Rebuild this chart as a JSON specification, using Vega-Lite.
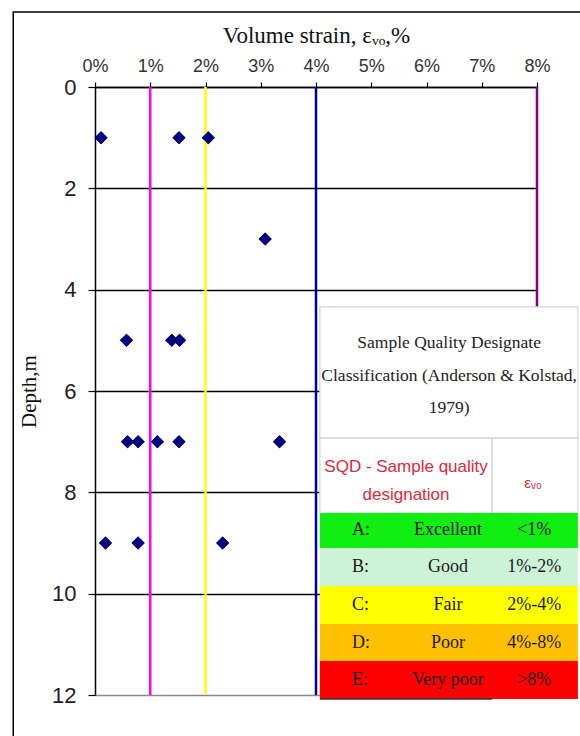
{
  "$schema": "https://vega.github.io/schema/vega-lite/v6.json",
  "width": 442,
  "height": 608,
  "autosize": "none",
  "padding": {"left": 95, "top": 87, "right": 43, "bottom": 41},
  "background": "white",
  "config": {"view": {"stroke": null}},
  "datasets": {
    "points": [
      {"depth": 1, "strain": 0.11}, {"depth": 1, "strain": 1.52}, {"depth": 1, "strain": 2.05},
      {"depth": 3, "strain": 3.08},
      {"depth": 5, "strain": 0.57}, {"depth": 5, "strain": 1.39}, {"depth": 5, "strain": 1.53},
      {"depth": 7, "strain": 0.59}, {"depth": 7, "strain": 0.78}, {"depth": 7, "strain": 1.13}, {"depth": 7, "strain": 1.52}, {"depth": 7, "strain": 3.34},
      {"depth": 9, "strain": 0.19}, {"depth": 9, "strain": 0.78}, {"depth": 9, "strain": 2.31}
    ],
    "limits": [
      {"limit": 1}, {"limit": 2}, {"limit": 4}, {"limit": 8}
    ],
    "whitecells": [
      {"cell": "title", "x0": 4.07, "x1": 8.74, "y0": 4.34, "y1": 6.93},
      {"cell": "sqd", "x0": 4.07, "x1": 7.19, "y0": 6.93, "y1": 8.41},
      {"cell": "eps", "x0": 7.19, "x1": 8.74, "y0": 6.93, "y1": 8.41}
    ],
    "grades": [
      {"grade": "A:", "quality": "Excellent", "range": "<1%", "y0": 8.41, "y1": 9.10, "ym": 8.75},
      {"grade": "B:", "quality": "Good", "range": "1%-2%", "y0": 9.10, "y1": 9.85, "ym": 9.48},
      {"grade": "C:", "quality": "Fair", "range": "2%-4%", "y0": 9.85, "y1": 10.60, "ym": 10.23},
      {"grade": "D:", "quality": "Poor", "range": "4%-8%", "y0": 10.60, "y1": 11.33, "ym": 10.97},
      {"grade": "E:", "quality": "Very poor", "range": ">8%", "y0": 11.33, "y1": 12.08, "ym": 11.71}
    ],
    "titlelines": [
      {"line": "Sample Quality Designate", "x": 6.41, "y": 5.05},
      {"line": "Classification (Anderson & Kolstad,", "x": 6.41, "y": 5.70},
      {"line": "1979)", "x": 6.41, "y": 6.34}
    ],
    "headerlines": [
      {"line": "SQD - Sample quality", "x": 5.63, "y": 7.50},
      {"line": "designation", "x": 5.63, "y": 8.05}
    ],
    "one": [{"label": "εᵥ₀"}]
  },
  "layer": [
    {
      "data": {"name": "points"},
      "mark": {"type": "point", "shape": "diamond", "filled": true, "size": 170, "color": "#00007f", "opacity": 1},
      "encoding": {
        "x": {
          "field": "strain", "type": "quantitative",
          "scale": {"domain": [0, 8], "nice": false},
          "axis": {
            "orient": "top", "values": [0, 1, 2, 3, 4, 5, 6, 7, 8],
            "labelExpr": "datum.value + '%'",
            "labelFlush": false,
            "title": "Volume strain, εᵥₒ,%",
            "titleFont": "Liberation Serif", "titleFontSize": 23, "titleFontWeight": "normal", "titleColor": "#111111",
            "titlePadding": 10,
            "labelFont": "Liberation Sans", "labelFontSize": 18, "labelColor": "#333333", "labelPadding": 7,
            "tickSize": 5, "tickColor": "#000000", "tickWidth": 1.2,
            "domainColor": "#000000", "domainWidth": 1.5,
            "grid": false
          }
        },
        "y": {
          "field": "depth", "type": "quantitative",
          "scale": {"domain": [0, 12], "reverse": true, "nice": false},
          "axis": {
            "orient": "left", "values": [0, 2, 4, 6, 8, 10, 12],
            "labelFlush": false,
            "title": "Depth,m",
            "titleFont": "Liberation Serif", "titleFontSize": 21, "titleFontWeight": "normal", "titleColor": "#111111",
            "titlePadding": 12,
            "labelFont": "Liberation Sans", "labelFontSize": 22, "labelColor": "#222222", "labelPadding": 12,
            "tickSize": 7, "tickColor": "#000000", "tickWidth": 1.2,
            "domainColor": "#000000", "domainWidth": 1.5,
            "grid": true,
            "gridColor": {"condition": {"test": "datum.value == 12", "value": "#888888"}, "value": "#000000"},
            "gridWidth": 1.3, "gridOpacity": 1
          }
        }
      }
    },
    {
      "data": {"name": "one"},
      "mark": {"type": "rect", "filled": false, "stroke": "#000000", "strokeWidth": 1.5},
      "encoding": {
        "x": {"datum": -1.48, "type": "quantitative"},
        "x2": {"datum": 9.3},
        "y": {"datum": -1.48, "type": "quantitative"},
        "y2": {"datum": 13.3}
      }
    },
    {
      "data": {"name": "limits"},
      "mark": {"type": "rule", "strokeWidth": 2.5},
      "encoding": {
        "x": {"field": "limit", "type": "quantitative"},
        "stroke": {"field": "limit", "type": "nominal", "scale": {"domain": [1, 2, 4, 8], "range": ["#ff00ff", "#ffff00", "#0000a0", "#800080"]}, "legend": null}
      }
    },
    {
      "data": {"name": "points"},
      "mark": {"type": "point", "shape": "diamond", "filled": true, "size": 170, "color": "#00007f", "opacity": 1},
      "encoding": {
        "x": {"field": "strain", "type": "quantitative"},
        "y": {"field": "depth", "type": "quantitative"}
      }
    },
    {
      "data": {"name": "whitecells"},
      "mark": {"type": "rect", "fill": "#ffffff", "stroke": "#d4d4d4", "strokeWidth": 1.2},
      "encoding": {
        "x": {"field": "x0", "type": "quantitative"},
        "x2": {"field": "x1"},
        "y": {"field": "y0", "type": "quantitative"},
        "y2": {"field": "y1"}
      }
    },
    {
      "data": {"name": "grades"},
      "mark": {"type": "rect"},
      "encoding": {
        "x": {"datum": 4.07, "type": "quantitative"},
        "x2": {"datum": 8.74},
        "y": {"field": "y0", "type": "quantitative"},
        "y2": {"field": "y1"},
        "fill": {"field": "grade", "type": "nominal", "scale": {"domain": ["A:", "B:", "C:", "D:", "E:"], "range": ["#11ee11", "#cdf3d6", "#ffff00", "#ffc000", "#ff0000"]}, "legend": null}
      }
    },
    {
      "data": {"name": "one"},
      "mark": {"type": "rule", "stroke": "#333333", "strokeWidth": 1.5},
      "encoding": {
        "x": {"datum": 4.07, "type": "quantitative"},
        "x2": {"datum": 7.19},
        "y": {"datum": 12.08, "type": "quantitative"}
      }
    },
    {
      "data": {"name": "grades"},
      "mark": {"type": "text", "align": "left", "baseline": "middle", "font": "Liberation Serif", "fontSize": 18, "color": "#1a1a1a"},
      "encoding": {
        "x": {"datum": 4.65, "type": "quantitative"},
        "y": {"field": "ym", "type": "quantitative"},
        "text": {"field": "grade"}
      }
    },
    {
      "data": {"name": "grades"},
      "mark": {"type": "text", "align": "center", "baseline": "middle", "font": "Liberation Serif", "fontSize": 18, "color": "#1a1a1a"},
      "encoding": {
        "x": {"datum": 6.39, "type": "quantitative"},
        "y": {"field": "ym", "type": "quantitative"},
        "text": {"field": "quality"}
      }
    },
    {
      "data": {"name": "grades"},
      "mark": {"type": "text", "align": "center", "baseline": "middle", "font": "Liberation Serif", "fontSize": 18, "color": "#1a1a1a"},
      "encoding": {
        "x": {"datum": 7.95, "type": "quantitative"},
        "y": {"field": "ym", "type": "quantitative"},
        "text": {"field": "range"}
      }
    },
    {
      "data": {"name": "titlelines"},
      "mark": {"type": "text", "align": "center", "baseline": "middle", "font": "Liberation Serif", "fontSize": 17.5, "color": "#222222"},
      "encoding": {
        "x": {"field": "x", "type": "quantitative"},
        "y": {"field": "y", "type": "quantitative"},
        "text": {"field": "line"}
      }
    },
    {
      "data": {"name": "headerlines"},
      "mark": {"type": "text", "align": "center", "baseline": "middle", "font": "Liberation Sans", "fontSize": 17, "color": "#e0283a"},
      "encoding": {
        "x": {"field": "x", "type": "quantitative"},
        "y": {"field": "y", "type": "quantitative"},
        "text": {"field": "line"}
      }
    },
    {
      "data": {"name": "one"},
      "mark": {"type": "text", "align": "center", "baseline": "middle", "font": "Liberation Sans", "fontSize": 15, "color": "#e0283a"},
      "encoding": {
        "x": {"datum": 7.93, "type": "quantitative"},
        "y": {"datum": 7.82, "type": "quantitative"},
        "text": {"field": "label"}
      }
    }
  ]
}
